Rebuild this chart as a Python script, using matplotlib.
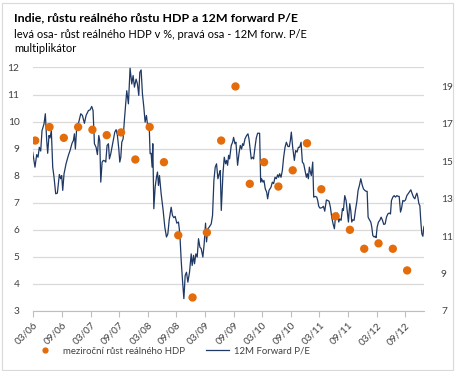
import matplotlib
matplotlib.use("Agg")
import matplotlib.pyplot as plt
from matplotlib.lines import Line2D

plt.rcParams['font.family'] = ['Lato', 'DejaVu Sans']

# GDP growth y/y (%), quarterly, Q1 2006 .. Q3 2012
gdp_quarters = ['2006Q1', '2006Q2', '2006Q3', '2006Q4', '2007Q1', '2007Q2', '2007Q3',
                '2007Q4', '2008Q1', '2008Q2', '2008Q3', '2008Q4', '2009Q1', '2009Q2',
                '2009Q3', '2009Q4', '2010Q1', '2010Q2', '2010Q3', '2010Q4', '2011Q1',
                '2011Q2', '2011Q3', '2011Q4', '2012Q1', '2012Q2', '2012Q3']
gdp_growth = [9.3, 9.8, 9.4, 9.8, 9.7, 9.5, 9.6, 8.6, 9.8, 8.5, 5.8, 3.5, 5.9, 9.3,
              11.3, 7.7, 8.5, 7.6, 8.2, 9.2, 7.5, 6.5, 6.0, 5.3, 5.5, 5.3, 4.5]

# 12M forward P/E (decimal year, value)
pe_time = [
    2006.156, 2006.196, 2006.226, 2006.249, 2006.272, 2006.296, 2006.319, 2006.354, 2006.377, 2006.401,
    2006.418, 2006.441, 2006.459, 2006.482, 2006.506, 2006.529, 2006.558, 2006.587, 2006.622, 2006.646,
    2006.663, 2006.681, 2006.704, 2006.739, 2006.780, 2006.809, 2006.844, 2006.867, 2006.885, 2006.902,
    2006.926, 2006.961, 2006.996, 2007.025, 2007.060, 2007.089, 2007.130, 2007.159, 2007.188, 2007.211,
    2007.235, 2007.264, 2007.287, 2007.311, 2007.328, 2007.346, 2007.369, 2007.392, 2007.416, 2007.433,
    2007.456, 2007.480, 2007.497, 2007.521, 2007.556, 2007.591, 2007.614, 2007.637, 2007.661, 2007.678,
    2007.696, 2007.713, 2007.736, 2007.760,
    2007.800, 2007.829, 2007.858, 2007.888, 2007.911, 2007.934, 2007.963, 2007.987, 2008.010, 2008.028,
    2008.051, 2008.074, 2008.098, 2008.121, 2008.144, 2008.168, 2008.191, 2008.208, 2008.226, 2008.243,
    2008.255, 2008.273, 2008.296, 2008.319, 2008.337, 2008.354, 2008.372, 2008.401, 2008.436, 2008.465,
    2008.494, 2008.518, 2008.541, 2008.576, 2008.599, 2008.623, 2008.646, 2008.675, 2008.704, 2008.728,
    2008.751, 2008.774, 2008.798, 2008.821, 2008.844, 2008.868, 2008.897, 2008.926, 2008.943, 2008.967,
    2008.984, 2009.008, 2009.031, 2009.054, 2009.078, 2009.101, 2009.130, 2009.153, 2009.177, 2009.194,
    2009.218, 2009.241, 2009.276, 2009.299, 2009.323, 2009.346, 2009.369, 2009.393, 2009.416,
    2009.434, 2009.452, 2009.481, 2009.504, 2009.527, 2009.545, 2009.562, 2009.580, 2009.597, 2009.626,
    2009.650, 2009.667, 2009.691, 2009.708, 2009.737, 2009.761, 2009.784, 2009.807, 2009.825, 2009.842,
    2009.866, 2009.895, 2009.918, 2009.936, 2009.959, 2009.976, 2010.000, 2010.017, 2010.041, 2010.064,
    2010.087, 2010.122, 2010.140, 2010.157, 2010.181, 2010.198, 2010.221, 2010.245, 2010.262, 2010.286,
    2010.321, 2010.344, 2010.367, 2010.391, 2010.414, 2010.437, 2010.455, 2010.472, 2010.496, 2010.519,
    2010.542, 2010.566, 2010.589, 2010.618, 2010.641, 2010.659, 2010.676, 2010.700, 2010.729, 2010.752,
    2010.776, 2010.799, 2010.822, 2010.846, 2010.869, 2010.892, 2010.916, 2010.939, 2010.956, 2010.974,
    2010.991, 2011.009, 2011.026, 2011.050, 2011.067, 2011.096, 2011.120, 2011.137, 2011.155, 2011.178,
    2011.213, 2011.237, 2011.260, 2011.289, 2011.312, 2011.336, 2011.359, 2011.382, 2011.406, 2011.429,
    2011.446, 2011.464, 2011.481, 2011.505, 2011.522, 2011.546, 2011.569, 2011.586, 2011.610, 2011.633,
    2011.651, 2011.674, 2011.697, 2011.715, 2011.732, 2011.750, 2011.773, 2011.796, 2011.820, 2011.843,
    2011.866, 2011.890, 2011.913, 2011.936, 2011.960, 2011.983, 2012.001, 2012.018, 2012.041, 2012.065,
    2012.082, 2012.100, 2012.123, 2012.141, 2012.158, 2012.176, 2012.199, 2012.222, 2012.246, 2012.269,
    2012.292, 2012.316, 2012.339, 2012.362, 2012.386, 2012.409, 2012.426, 2012.450, 2012.473, 2012.496,
    2012.520, 2012.543, 2012.561, 2012.584, 2012.601, 2012.625, 2012.648, 2012.671, 2012.695, 2012.718,
    2012.741, 2012.765, 2012.788, 2012.811, 2012.835, 2012.852, 2012.870, 2012.887, 2012.905, 2012.922,
    2012.940, 2012.957, 2012.975, 2012.992, 2013.004]
pe_value = [
    15.48, 14.68, 15.35, 15.21, 15.74, 15.54, 16.63, 16.99, 17.53, 16.10,
    15.42, 16.37, 16.24, 16.63, 14.68, 14.14, 13.26, 13.29, 14.29, 14.06,
    14.23, 13.44, 14.33, 14.86, 15.31, 15.57, 15.96, 16.10, 16.46, 15.65,
    16.81, 17.08, 17.53, 17.44, 17.02, 17.44, 17.70, 17.74, 17.92, 17.70,
    15.93, 15.74, 15.35, 16.37, 16.10, 13.88, 14.95, 15.04, 15.01, 14.95,
    15.84, 15.93, 15.12, 15.40, 15.96, 16.55, 16.68, 16.37, 15.65, 14.95,
    15.21, 16.01, 16.19, 17.25,
    18.76, 18.06, 19.96, 19.12, 19.57, 18.95, 19.38, 19.12, 18.51, 19.74,
    19.87, 18.59, 17.89, 17.08, 17.44, 16.81, 16.99, 15.40, 15.42, 14.68,
    15.93, 12.46, 13.61, 14.14, 14.42, 13.70, 14.23, 13.26, 12.37, 11.48,
    10.95, 11.12, 11.84, 12.54, 12.10, 11.98, 12.05, 11.69, 11.75, 11.12,
    9.71, 8.64, 7.66, 8.90, 9.07, 8.54, 9.07, 10.05, 9.43, 9.97,
    9.52, 10.05, 9.88, 10.86, 10.41, 10.33, 9.88, 10.59, 11.69, 10.69,
    11.39, 11.48, 11.65, 12.10, 13.97, 14.68, 14.86, 14.06, 14.33,
    14.50, 12.37, 14.33, 15.21, 14.86, 15.04, 14.78, 15.31, 15.12, 15.84,
    16.01, 16.27, 15.93, 16.01, 14.78, 15.40, 15.84, 15.65, 15.93, 15.84,
    16.19, 16.37, 16.46, 16.19, 15.57, 15.12, 15.21, 15.12, 15.74, 16.24,
    16.49, 16.49, 13.88, 14.06, 13.88, 13.97, 13.52, 13.35, 12.99, 13.44,
    13.61, 13.88, 13.80, 14.14, 14.06, 14.27, 14.14, 14.33, 14.14, 14.50,
    15.21, 15.74, 16.01, 15.78, 15.78, 16.10, 16.55, 15.74, 15.04, 15.57,
    15.48, 15.74, 15.74, 16.01, 14.95, 14.86, 14.50, 14.14, 14.33, 14.06,
    14.68, 14.42, 14.23, 14.95, 13.08, 13.12, 13.08, 12.90, 12.59, 12.49,
    12.52, 12.59, 12.33, 12.93, 12.90, 12.86, 12.54, 12.01, 11.65, 11.39,
    11.98, 12.10, 12.23, 11.75, 11.92, 11.84, 12.46, 12.37, 13.16, 12.90,
    12.37, 11.75, 12.73, 12.37, 11.75, 11.87, 11.84, 12.37, 12.82, 13.44,
    13.70, 14.06, 13.75, 13.52, 13.44, 13.39, 13.39, 12.01, 11.87, 11.75,
    11.48, 11.03, 10.95, 10.99, 10.92, 11.48, 11.75, 11.84, 12.01, 11.84,
    11.62, 11.65, 12.01, 12.18, 12.23, 12.18, 12.90, 13.08, 13.16, 13.08,
    13.16, 13.12, 13.12, 12.28, 12.46, 12.90, 12.86, 12.93, 13.16, 13.26,
    13.35, 13.47, 13.26, 13.08, 12.99, 13.16, 13.29, 13.08, 12.73, 12.63,
    11.75, 11.12, 10.99, 11.48, 11.56]

tick_labels = ['03/06', '09/06', '03/07', '09/07', '03/08', '09/08', '03/09',
               '09/09', '03/10', '09/10', '03/11', '09/11', '03/12', '09/12']

orange = '#E46C0A'
navy = '#1F3864'
grey_text = '#404040'

# quarter -> decimal year (mid of last month of quarter)
gdp_time = [int(q[:4]) + (int(q[-1]) * 3 - 1 + 0.4) / 12 for q in gdp_quarters]
tick_pos = [int('20' + t[3:]) + (int(t[:2]) - 1) / 12 for t in tick_labels]

fig = plt.figure(figsize=(4.55, 3.71), dpi=100)
ax = fig.add_axes([33.3 / 455, 1 - 311 / 371, (424.3 - 33.3) / 455, (311 - 67.5) / 371])
ax2 = ax.twinx()

ax.set_ylim(3, 12)
ax.set_yticks(range(3, 13))
ax.set_xlim(2006 + 2 / 12, 2013.0)
for s in ['top', 'left', 'right']:
    ax.spines[s].set_visible(False)
    ax2.spines[s].set_visible(False)
ax.spines['bottom'].set_color('#bfbfbf')
ax2.spines['bottom'].set_visible(False)
ax.set_xticks(tick_pos)
ax.set_xticklabels(tick_labels, rotation=45, ha='right', rotation_mode='anchor')
ax.tick_params(axis='x', colors='#bfbfbf', labelcolor=grey_text, length=4, labelsize=7.2, pad=3)
ax.tick_params(axis='y', length=0, labelcolor=grey_text, labelsize=7.3, pad=10)

# horizontal gridlines (left axis ticks), behind the line
for yv in range(3, 13):
    ax2.axhline(7 + (yv - 3) * 13 / 9, color='#d9d9d9', linewidth=0.9, zorder=1)
ax2.plot(pe_time, pe_value, color=navy, linewidth=0.9, zorder=2)
ax2.set_ylim(7, 20)
ax2.set_yticks(range(7, 20, 2))
ax2.tick_params(axis='y', length=0, labelcolor=grey_text, labelsize=7.3, pad=12)

ax.set_zorder(ax2.get_zorder() + 1)
ax.patch.set_visible(False)
ax.scatter(gdp_time, gdp_growth, s=36, color=orange, edgecolors='none', zorder=3)

fig.text(14 / 455, 1 - 18 / 371, 'Indie, růstu reálného růstu HDP a 12M forward P/E',
         fontsize=8.9, fontweight='bold', color='black', va='center')
fig.text(14 / 455, 1 - 34 / 371, 'levá osa- růst reálného HDP v %, pravá osa - 12M forw. P/E',
         fontsize=8.0, color='black', va='center')
fig.text(14 / 455, 1 - 49 / 371, 'multiplikátor', fontsize=8.0, color='black', va='center')

handles = [Line2D([], [], marker='o', linestyle='none', color=orange, markersize=4.5,
                  markeredgewidth=0),
           Line2D([], [], color=navy, linewidth=0.9)]
fig.legend(handles, ['meziroční růst reálného HDP', '12M Forward P/E'], loc='center',
           bbox_to_anchor=(172 / 455, 1 - 351 / 371), ncol=2, frameon=False,
           fontsize=6.9, handlelength=2.4, columnspacing=2.2, handletextpad=0.6)
for t in fig.legends[0].get_texts():
    t.set_color(grey_text)

fig.patches.append(plt.Rectangle((1.5 / 455, 1.5 / 371), 451 / 455, 367 / 371,
                                 transform=fig.transFigure, fill=False,
                                 edgecolor='#d9d9d9', linewidth=0.8))

fig.savefig('out.png', dpi=100)
